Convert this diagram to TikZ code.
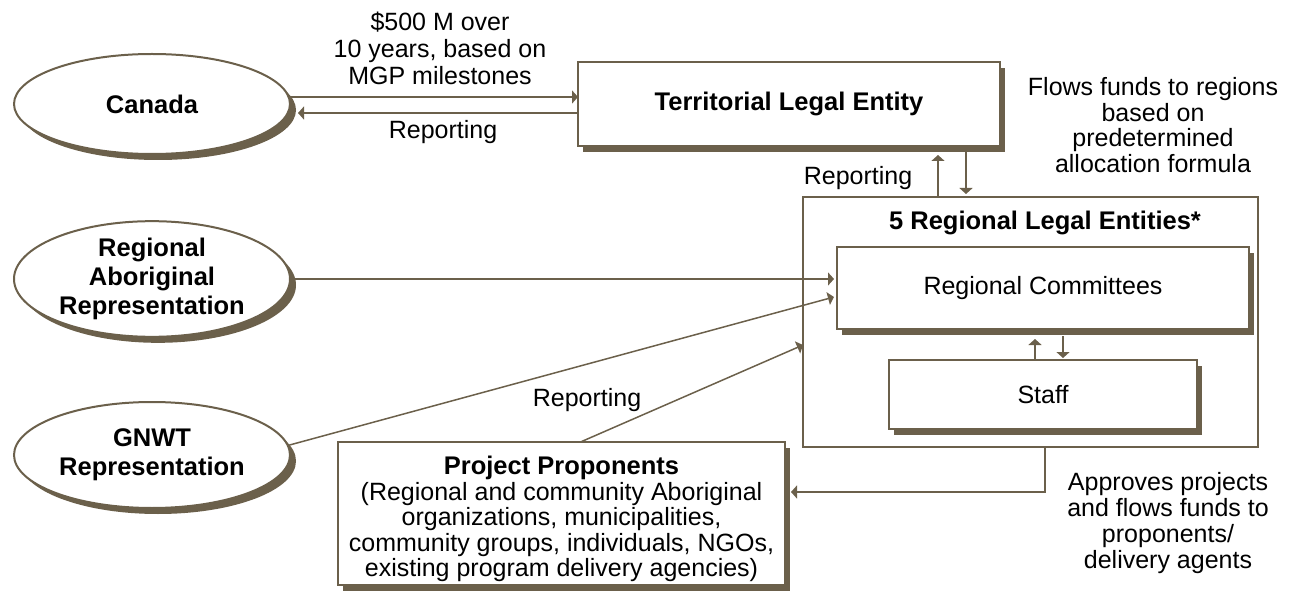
\documentclass[tikz,border=0pt]{standalone}
\usepackage{fontspec}
\setmainfont{Liberation Sans}
\usetikzlibrary{shapes.geometric,shadows,arrows.meta,calc}
\definecolor{brn}{RGB}{107,96,75}
\begin{document}
\begin{tikzpicture}[x=1pt,y=-1pt,
  txt/.style={font=\fontsize{25}{26}\selectfont, align=center, inner sep=0pt},
  btxt/.style={font=\fontsize{25.5}{26}\selectfont\bfseries, align=center, inner sep=0pt},
  oval/.style={ellipse, draw=brn, line width=2pt, fill=white, minimum width=276pt, minimum height=100pt, inner sep=0pt, outer sep=0pt, drop shadow={shadow xshift=6pt, shadow yshift=-6pt, opacity=1, fill=brn}, font=\fontsize{25.5}{29}\selectfont\bfseries, align=center},
  sbox/.style={rectangle, draw=brn, line width=2.5pt, fill=white, inner sep=0pt, outer sep=0pt, drop shadow={shadow xshift=5pt, shadow yshift=-6pt, opacity=1, fill=brn}, align=center, font=\fontsize{25}{26}\selectfont},
  pbox/.style={rectangle, draw=brn, line width=2pt, inner sep=0pt, outer sep=0pt},
  arr/.style={draw=brn, line width=1.5pt, -{Triangle[length=6pt,width=13pt]}}
]
\useasboundingbox (0,0) rectangle (1291,596);

% ovals
\node[oval] (canada) at (152,104) {Canada};
\node[oval, minimum height=102pt] (rar) at (152,279) {\raisebox{0pt}{}Regional\\Aboriginal\\Representation};
\node[oval, minimum height=106pt] (gnwt) at (152,455) {GNWT\\Representation};

% boxes
\node[sbox, minimum width=422pt, minimum height=84pt, font=\fontsize{25.5}{26}\selectfont\bfseries] (tle) at (789,104) {Territorial Legal Entity};
\node[pbox, minimum width=455pt, minimum height=250pt] (rle) at (1030.5,322) {};
\node[btxt] (rletitle) at (1045,223) {5 Regional Legal Entities*};
\node[sbox, minimum width=412pt, minimum height=82pt] (rc) at (1043,288) {Regional Committees};
\node[sbox, minimum width=308pt, minimum height=69pt] (staff) at (1043,394.5) {Staff};
\node[sbox, minimum width=447pt, minimum height=143pt] (pp) at (561.5,513.5) {};
\node[txt, font=\fontsize{25}{25.5}\selectfont] (pptext) at (561.5,519) {{\fontsize{25.5}{25.5}\selectfont\bfseries Project Proponents}\\(Regional and community Aboriginal\\organizations, municipalities,\\community groups, individuals, NGOs,\\existing program delivery agencies)};

% labels
\node[txt, font=\fontsize{25}{27}\selectfont] (fund) at (440,48) {\$500 M over\\10 years, based on\\MGP milestones};
\node[txt] (rep1) at (443,132) {Reporting};
\node[txt] (rep2) at (858,178) {Reporting};
\node[txt, font=\fontsize{25}{25.5}\selectfont] (flows) at (1153,125) {Flows funds to regions\\based on\\predetermined\\allocation formula};
\node[txt] (rep3) at (587,400) {Reporting};
\node[txt] (appr) at (1168,523) {Approves projects\\and flows funds to\\proponents/\\delivery agents};

% connectors
\draw[arr] ($(canada.east)+(0,-7)$) -- ($(tle.west)+(0,-7)$);
\draw[arr] ($(tle.west)+(0,9)$) -- ($(canada.east)+(8,9)$);
\draw[arr] ($(rle.north)+(-92.5,0)$) -- ($(tle.south)+(149,9)$);
\draw[arr] ($(tle.south)+(177,6)$) -- ($(rle.north)+(-64.5,-3)$);
\draw[arr] ($(staff.north)+(-8,-1)$) -- ($(rc.south)+(-8,10)$);
\draw[arr] ($(rc.south)+(20,7)$) -- ($(staff.north)+(20,-2)$);
\draw[arr] (rar.east) -- ($(rc.west)+(-3,-9)$);
\draw[arr] (gnwt.4) -- ($(rc.west)+(-3,9)$);
\draw[arr] ($(pp.north)+(19,0)$) -- ($(rle.west)+(0,23)$);
\draw[arr] ($(rle.south)+(14.5,0)$) |- ($(pp.east)+(6,-21.5)$);
\end{tikzpicture}
\end{document}
